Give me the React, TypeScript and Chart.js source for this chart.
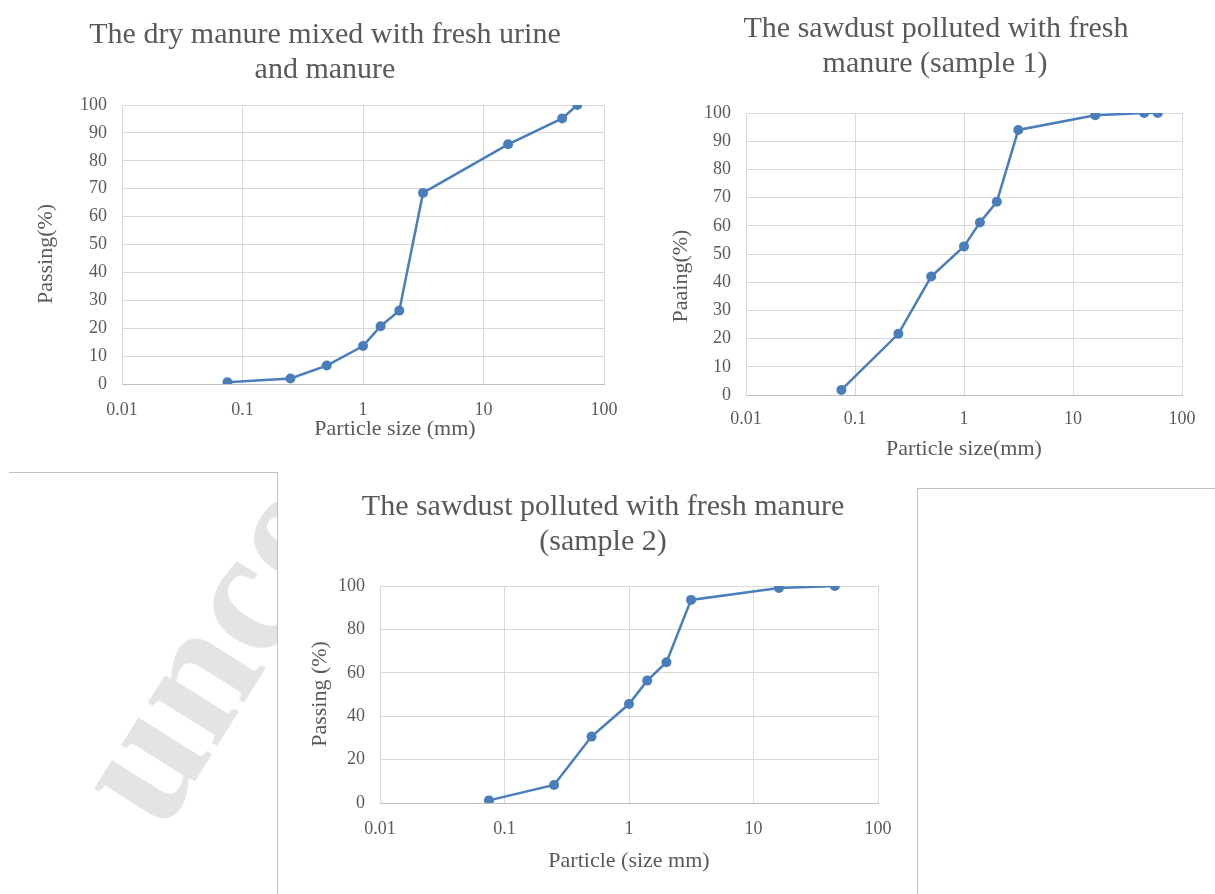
import React, { useEffect, useRef } from "react";
import { Chart, registerables } from "chart.js";

Chart.register(...registerables);

// ---- data ----
const xTickValues = [0.01, 0.1, 1, 10, 100];
const xTickLabels = ["0.01", "0.1", "1", "10", "100"];
const yTicksBy10 = [0, 10, 20, 30, 40, 50, 60, 70, 80, 90, 100];
const yTicksBy20 = [0, 20, 40, 60, 80, 100];

const sizes1 = [0.075, 0.25, 0.5, 1, 1.4, 2, 3.15, 16, 45, 60];
const passing1 = [0.6, 2, 6.6, 13.6, 20.7, 26.3, 68.5, 85.9, 95.2, 100];

const sizes2 = [0.075, 0.25, 0.5, 1, 1.4, 2, 3.15, 16, 45, 60];
const passing2 = [1.8, 21.7, 42, 52.7, 61.2, 68.5, 94, 99.2, 100, 100];

const sizes3 = [0.075, 0.25, 0.5, 1, 1.4, 2, 3.15, 16, 45];
const passing3 = [1.2, 8.3, 30.6, 45.6, 56.4, 64.9, 93.6, 99.1, 100];

const title1 = ["The dry manure mixed with fresh urine", "and manure"];
const title2 = ["The sawdust polluted with fresh", "manure (sample 1)"];
const title3 = ["The sawdust polluted with fresh manure", "(sample 2)"];
const xTitle1 = "Particle size (mm)";
const xTitle2 = "Particle size(mm)";
const xTitle3 = "Particle (size mm)";
const yTitle1 = "Passing(%)";
const yTitle2 = "Paaing(%)";
const yTitle3 = "Passing (%)";

const FONT = "'Liberation Serif', 'Times New Roman', serif";
const TEXT = "#595959";
const LINE = "#4A7EBB";

type TextItem = { text: string; x: number; y: number; size: number; rotate?: boolean };

const textPlugin = {
  id: "textPlugin",
  afterDraw(chart: any, _args: any, opts: any) {
    const ctx = chart.ctx;
    const items: TextItem[] = opts.items || [];
    ctx.save();
    ctx.fillStyle = TEXT;
    ctx.textAlign = "center";
    for (const it of items) {
      ctx.font = `${it.size}px ${FONT}`;
      if (it.rotate) {
        ctx.save();
        ctx.translate(it.x, it.y);
        ctx.rotate(-Math.PI / 2);
        ctx.textBaseline = "middle";
        ctx.fillText(it.text, 0, 0);
        ctx.restore();
      } else {
        ctx.textBaseline = "alphabetic";
        ctx.fillText(it.text, it.x, it.y);
      }
    }
    ctx.restore();
  },
};

type Spec = {
  left: number;
  top: number;
  width: number;
  height: number;
  area: { l: number; t: number; r: number; b: number };
  sizes: number[];
  passing: number[];
  yTicks: number[];
  xPad: number;
  items: TextItem[];
};

const specs: Spec[] = [
  {
    left: 0,
    top: 0,
    width: 620,
    height: 460,
    area: { l: 122, t: 105, r: 604, b: 384 },
    sizes: sizes1,
    passing: passing1,
    yTicks: yTicksBy10,
    xPad: 15,
    items: [
      { text: title1[0], x: 325, y: 43, size: 30 },
      { text: title1[1], x: 325, y: 78, size: 30 },
      { text: xTitle1, x: 395, y: 435, size: 22 },
      { text: yTitle1, x: 46, y: 254, size: 22, rotate: true },
    ],
  },
  {
    left: 620,
    top: 0,
    width: 595,
    height: 470,
    area: { l: 126, t: 113, r: 562, b: 395 },
    sizes: sizes2,
    passing: passing2,
    yTicks: yTicksBy10,
    xPad: 13,
    items: [
      { text: title2[0], x: 316, y: 37, size: 30 },
      { text: title2[1], x: 315, y: 72, size: 30 },
      { text: xTitle2, x: 344, y: 455, size: 22 },
      { text: yTitle2, x: 61, y: 276, size: 22, rotate: true },
    ],
  },
  {
    left: 277,
    top: 472,
    width: 640,
    height: 422,
    area: { l: 103, t: 114, r: 601, b: 331 },
    sizes: sizes3,
    passing: passing3,
    yTicks: yTicksBy20,
    xPad: 15,
    items: [
      { text: title3[0], x: 326, y: 43, size: 30 },
      { text: title3[1], x: 326, y: 78, size: 30 },
      { text: xTitle3, x: 352, y: 395, size: 22 },
      { text: yTitle3, x: 43, y: 222, size: 22, rotate: true },
    ],
  },
];

function GradationChart({ spec }: { spec: Spec }) {
  const ref = useRef<HTMLCanvasElement | null>(null);
  useEffect(() => {
    if (!ref.current) return;
    const a = spec.area;
    const chart = new Chart(ref.current, {
      type: "scatter",
      data: {
        datasets: [
          {
            data: spec.sizes.map((s, i) => ({ x: s, y: spec.passing[i] })),
            showLine: true,
            borderColor: LINE,
            backgroundColor: LINE,
            borderWidth: 2.5,
            pointRadius: 5,
            pointBackgroundColor: LINE,
            pointBorderColor: LINE,
            pointBorderWidth: 0,
          },
        ],
      },
      options: {
        responsive: false,
        animation: false,
        devicePixelRatio: 1,
        layout: { padding: { left: 0, top: a.t, right: spec.width - a.r, bottom: 0 } },
        plugins: {
          legend: { display: false },
          tooltip: { enabled: false },
          textPlugin: { items: spec.items },
        } as any,
        scales: {
          x: {
            type: "logarithmic",
            min: 0.01,
            max: 100,
            afterBuildTicks: (scale: any) => {
              scale.ticks = xTickValues.map((v) => ({ value: v }));
            },
            afterFit: (scale: any) => {
              scale.height = spec.height - a.b;
              scale.paddingLeft = 0;
              scale.paddingRight = 0;
            },
            ticks: {
              autoSkip: false,
              maxRotation: 0,
              padding: spec.xPad,
              color: TEXT,
              font: { family: FONT, size: 18 },
              callback: (_v: any, i: number) => xTickLabels[i],
            },
            grid: { color: "#d9d9d9", drawTicks: false, lineWidth: 1 },
            border: { color: "#bfbfbf", width: 1 },
          },
          y: {
            type: "linear",
            min: 0,
            max: 100,
            afterBuildTicks: (scale: any) => {
              scale.ticks = spec.yTicks.map((v) => ({ value: v }));
            },
            afterFit: (scale: any) => {
              scale.width = a.l;
              scale.paddingTop = 0;
              scale.paddingBottom = 0;
            },
            ticks: {
              padding: 15,
              color: TEXT,
              font: { family: FONT, size: 18 },
              callback: (v: any) => String(v),
            },
            grid: { color: "#d9d9d9", drawTicks: false, lineWidth: 1 },
            border: { display: false },
          },
        },
      } as any,
      plugins: [textPlugin],
    });
    return () => chart.destroy();
  }, [spec]);
  return (
    <canvas
      ref={ref}
      width={spec.width}
      height={spec.height}
      style={{ position: "absolute", left: spec.left, top: spec.top, width: spec.width, height: spec.height }}
    />
  );
}

export default function App() {
  return (
    <div style={{ position: "absolute", left: 0, top: 0, width: 1215, height: 894, background: "#fff", overflow: "hidden" }}>
      <svg width={277} height={894} style={{ position: "absolute", left: 0, top: 0 }}>
        <text
          x={162}
          y={834}
          transform="rotate(-58 162 834)"
          fontFamily="'Liberation Serif', serif"
          fontWeight="bold"
          fontSize={178}
          fill="#e4e4e4"
        >
          uncorrected proof
        </text>
      </svg>
      <div style={{ position: "absolute", left: 9, top: 472, width: 268, height: 422, borderTop: "1px solid #c0c0c0", borderRight: "1px solid #c0c0c0" }} />
      <div style={{ position: "absolute", left: 917, top: 488, width: 298, height: 406, borderTop: "1px solid #c0c0c0", borderLeft: "1px solid #c0c0c0" }} />
      {specs.map((s, i) => (
        <GradationChart key={i} spec={s} />
      ))}
    </div>
  );
}
